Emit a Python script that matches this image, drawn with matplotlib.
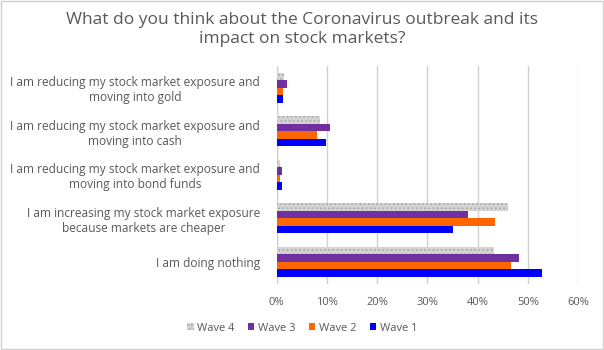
import matplotlib
matplotlib.use("Agg")
import matplotlib.pyplot as plt
import numpy as np
from matplotlib.patches import Rectangle

plt.rcParams['font.family'] = ['Open Sans', 'DejaVu Sans']
plt.rcParams['hatch.linewidth'] = 0.8

categories = [
    "I am reducing my stock market exposure and\nmoving into gold",
    "I am reducing my stock market exposure and\nmoving into cash",
    "I am reducing my stock market exposure and\nmoving into bond funds",
    "I am increasing my stock market exposure\nbecause markets are cheaper",
    "I am doing nothing",
]
series_names = ["Wave 4", "Wave 3", "Wave 2", "Wave 1"]
wave4 = [1.5, 8.7, 0.7, 46.1, 43.3]
wave3 = [2.1, 10.7, 1.1, 38.1, 48.3]
wave2 = [1.3, 8.1, 0.7, 43.5, 46.7]
wave1 = [1.3, 9.9, 1.1, 35.2, 52.9]
xticks = [0, 10, 20, 30, 40, 50, 60]

series = [wave4, wave3, wave2, wave1]
colors = ["#d4d4d4", "#7030a0", "#ff6600", "#0000ff"]
hatches = ["....", None, None, None]

fig = plt.figure(figsize=(6.04, 3.50), dpi=100)
ax = fig.add_axes([0.458, 0.19, 0.499, 0.621])

y = np.arange(len(categories))
h = 0.172
for i, (vals, c, hat) in enumerate(zip(series, colors, hatches)):
    offs = (i - 1.5) * h
    if hat:
        ax.barh(y + offs, vals, height=h, color=c, edgecolor="#aaaaaa",
                hatch=hat, linewidth=0, label=series_names[i])
    else:
        ax.barh(y + offs, vals, height=h, color=c, linewidth=0,
                label=series_names[i])

ax.set_ylim(len(categories) - 0.5, -0.5)
ax.set_xlim(0, 60)
ax.set_xticks(xticks)
ax.set_xticklabels([f"{t}%" for t in xticks], fontsize=8, color="#595959")
ax.set_yticks(y)
ax.set_yticklabels(categories, fontsize=8.6, color="#595959",
                   multialignment='center')
ax.tick_params(axis='x', length=0, pad=10)
ax.tick_params(axis='y', length=0, pad=12)
ax.grid(axis='x', color="#d0d0d0", linewidth=1)
ax.set_axisbelow(True)
for s in ax.spines.values():
    s.set_visible(False)
ax.axvline(0, color="#d0d0d0", linewidth=1, zorder=0.5)

fig.text(0.5, 0.965, "What do you think about the Coronavirus outbreak and its\nimpact on stock markets?",
         ha='center', va='top', fontsize=12.5, color="#595959", linespacing=1.25)

handles, labels = ax.get_legend_handles_labels()
fig.legend(handles, labels, loc='center', bbox_to_anchor=(0.5, 0.062), ncol=4,
           frameon=False, fontsize=8, labelcolor="#595959",
           handlelength=0.6, handleheight=0.6, handletextpad=0.3, columnspacing=1.2)

fig.patches.append(Rectangle((0.0015, 0.0025), 0.997, 0.995, transform=fig.transFigure,
                             fill=False, edgecolor="#d0d0d0", linewidth=1))

fig.savefig("out.png", dpi=100, facecolor="white")
